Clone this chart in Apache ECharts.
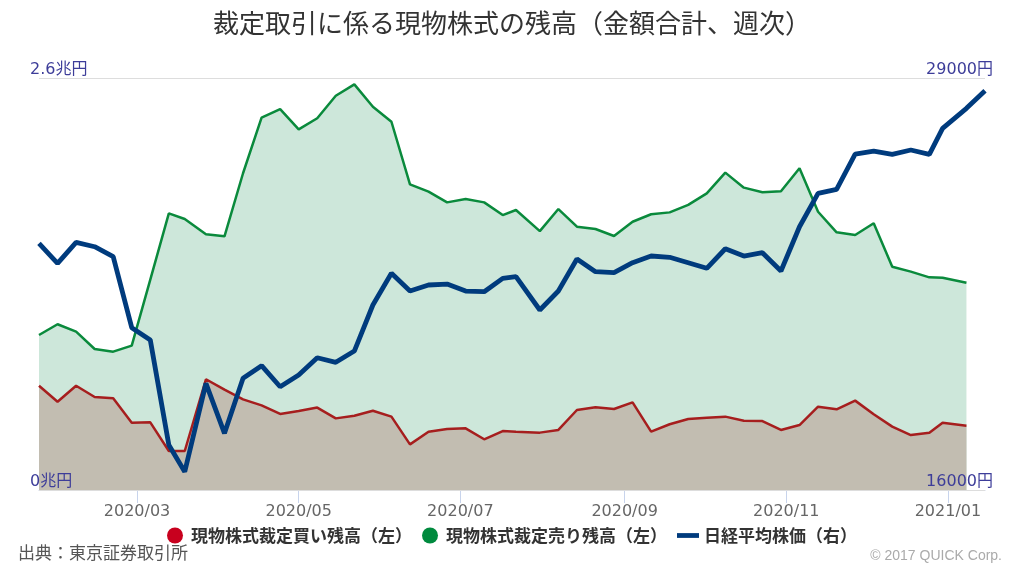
<!DOCTYPE html>
<html>
<head>
<meta charset="utf-8">
<script src="https://cdn.jsdelivr.net/npm/echarts@6/dist/echarts.min.js"></script>
<style>
html,body{margin:0;padding:0;background:#fff;}
#chart{width:1024px;height:564px;}
</style>
</head>
<body>
<div id="chart"></div>
<script>
// Weekly dates (last trading day of each week)
const dates = [
 '2020-01-24','2020-01-31','2020-02-07','2020-02-14','2020-02-21','2020-02-28',
 '2020-03-06','2020-03-13','2020-03-19','2020-03-27','2020-04-03','2020-04-10',
 '2020-04-17','2020-04-24','2020-05-01','2020-05-08','2020-05-15','2020-05-22',
 '2020-05-29','2020-06-05','2020-06-12','2020-06-19','2020-06-26','2020-07-03',
 '2020-07-10','2020-07-17','2020-07-22','2020-07-31','2020-08-07','2020-08-14',
 '2020-08-21','2020-08-28','2020-09-04','2020-09-11','2020-09-18','2020-09-25',
 '2020-10-02','2020-10-09','2020-10-16','2020-10-23','2020-10-30','2020-11-06',
 '2020-11-13','2020-11-20','2020-11-27','2020-12-04','2020-12-11','2020-12-18',
 '2020-12-25','2020-12-30','2021-01-08','2021-01-15'
];
// 現物株式裁定買い残高（兆円）
const buyBalance = [
 0.658,0.557,0.658,0.587,0.579,0.425,0.427,0.246,0.246,0.699,0.633,0.572,
 0.534,0.480,0.498,0.520,0.452,0.469,0.500,0.463,0.288,0.368,0.385,0.389,
 0.320,0.372,0.368,0.362,0.379,0.505,0.522,0.511,0.553,0.368,0.415,0.448,
 0.456,0.463,0.437,0.435,0.379,0.410,0.526,0.509,0.564,0.478,0.400,0.347,
 0.362,0.425,0.406
];
// 現物株式裁定売り残高（兆円）
const sellBalance = [
 0.978,1.046,0.999,0.890,0.873,0.911,1.328,1.746,1.710,1.614,1.601,1.999,
 2.350,2.404,2.276,2.346,2.488,2.560,2.419,2.324,1.929,1.883,1.815,1.836,
 1.815,1.735,1.767,1.634,1.773,1.662,1.647,1.603,1.693,1.740,1.752,1.799,
 1.872,2.003,1.908,1.879,1.885,2.030,1.756,1.626,1.609,1.683,1.409,1.378,
 1.342,1.340,1.308
];
// 日経平均株価（円）
const nikkei = [
 23783,23152,23815,23676,23361,21121,20733,17420,16577,19366,17789,19524,
 19922,19259,19628,20174,20029,20385,21837,22837,22278,22468,22499,22278,
 22257,22679,22730,21679,22278,23288,22888,22856,23171,23383,23342,23171,
 22995,23613,23383,23487,22909,24307,25361,25487,26601,26695,26591,26727,
 26591,27412,28043,28600
];
const monthTicks = ['2020-03-01','2020-05-01','2020-07-01','2020-09-01','2020-11-01','2021-01-01'];
const leftTicks = [0, 2.6];
const rightTicks = [16000, 29000];

function toTime(s){ const p = s.split('-').map(Number); return Date.UTC(p[0], p[1]-1, p[2]); }
function zip(vals){ return vals.map((v,i)=>[toTime(dates[i]), v]); }
function pad(n){ return n < 10 ? '0'+n : ''+n; }

const FONT = "'DejaVu Sans','Noto Sans CJK JP',sans-serif";
const CJK = "'Noto Sans CJK JP',sans-serif";
const LABEL_BLUE = '#3d3d99';

const chart = echarts.init(document.getElementById('chart'), null, {renderer:'canvas'});
chart.setOption({
  animation:false,
  backgroundColor:'#fff',
  title:[
    {text:'裁定取引に係る現物株式の残高（金額合計、週次）', left:'center', top:5,
     textStyle:{fontSize:26, fontWeight:'normal', color:'#333', fontFamily:CJK}},
    {text:'出典：東京証券取引所', left:13, top:539,
     textStyle:{fontSize:17, fontWeight:'normal', color:'#555', fontFamily:CJK}},
    {text:'© 2017 QUICK Corp.', right:17, top:544,
     textStyle:{fontSize:14, fontWeight:'normal', color:'#aaa', fontFamily:"'Liberation Sans',sans-serif"}}
  ],
  legend:{
    left:'center', top:522, itemWidth:22, itemHeight:16, itemGap:10,
    textStyle:{fontSize:17, fontWeight:'bold', color:'#333', fontFamily:CJK},
    data:[
      {name:'現物株式裁定買い残高（左）', icon:'circle'},
      {name:'現物株式裁定売り残高（左）', icon:'circle'},
      {name:'日経平均株価（右）', icon:'path://M0,0h46v10h-46z'}
    ]
  },
  grid:{left:39, right:39, top:78, bottom:74},
  xAxis:{
    type:'value',
    min:toTime(dates[0]), max:toTime(dates[dates.length-1]),
    axisLine:{show:true, lineStyle:{color:'#c8d4ec', width:1}},
    axisTick:{show:true, length:13, lineStyle:{color:'#c8d4ec'}, customValues:monthTicks.map(toTime)},
    axisLabel:{customValues:monthTicks.map(toTime), margin:14, fontSize:16, color:'#666', fontFamily:FONT,
      formatter:function(v){ const d=new Date(v); return d.getUTCFullYear()+'/'+pad(d.getUTCMonth()+1); }},
    splitLine:{show:false}
  },
  yAxis:[
    {type:'value', position:'left', min:leftTicks[0], max:leftTicks[1], interval:2.6, z:5,
     axisLine:{show:false}, axisTick:{show:false},
     splitLine:{show:true, lineStyle:{color:'#dddddd', width:1}},
     axisLabel:{margin:9, align:'left', verticalAlign:'bottom', fontSize:16, color:LABEL_BLUE, fontFamily:FONT,
       formatter:function(v){ return v > 0 ? '{t|'+v+'兆円}' : '{b|'+v+'兆円}'; },
       rich:{
         t:{fontSize:16, color:LABEL_BLUE, fontFamily:FONT, backgroundColor:'#fff', padding:[0,2,0,0]},
         b:{fontSize:16, color:LABEL_BLUE, fontFamily:FONT}
       }}
    },
    {type:'value', position:'right', min:rightTicks[0], max:rightTicks[1], z:5,
     axisLine:{show:false}, axisTick:{show:false}, splitLine:{show:false},
     axisLabel:{customValues:rightTicks, margin:8, align:'right', verticalAlign:'bottom', fontSize:16, color:LABEL_BLUE, fontFamily:FONT,
       formatter:function(v){ return v > 20000 ? '{t|'+v+'円}' : '{b|'+v+'円}'; },
       rich:{
         t:{fontSize:16, color:LABEL_BLUE, fontFamily:FONT, backgroundColor:'#fff', padding:[0,0,0,2]},
         b:{fontSize:16, color:LABEL_BLUE, fontFamily:FONT}
       }}
    }
  ],
  series:[
    {name:'現物株式裁定売り残高（左）', type:'line', yAxisIndex:0, data:zip(sellBalance),
     showSymbol:false, symbol:'none', z:2,
     itemStyle:{color:'#008a3e'},
     lineStyle:{color:'#0a8a3c', width:2.5},
     areaStyle:{color:'#cde7da', opacity:1}},
    {name:'現物株式裁定買い残高（左）', type:'line', yAxisIndex:0, data:zip(buyBalance),
     showSymbol:false, symbol:'none', z:3,
     itemStyle:{color:'#c8001e'},
     lineStyle:{color:'#a61e1e', width:2.5},
     areaStyle:{color:'#c2bdb1', opacity:1}},
    {name:'日経平均株価（右）', type:'line', yAxisIndex:1, data:zip(nikkei),
     showSymbol:false, symbol:'none', z:4,
     itemStyle:{color:'#003b7d'},
     lineStyle:{color:'#003b7d', width:4.8}}
  ]
});
</script>
</body>
</html>
